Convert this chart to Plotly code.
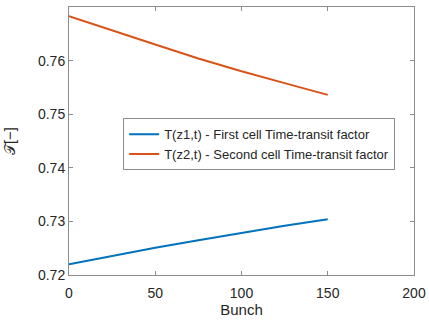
import plotly.graph_objects as go

bunch = [0, 25, 50, 75, 100, 125, 150]
t_first = [0.7220, 0.7236, 0.7251, 0.7265, 0.7279, 0.7292, 0.7304]
t_second = [0.7683, 0.7656, 0.7630, 0.7604, 0.7580, 0.7558, 0.7536]
names = ["T(z1,t) - First cell Time-transit factor",
         "T(z2,t) - Second cell Time-transit factor"]
x_ticks = [0, 50, 100, 150, 200]
y_ticks = [0.72, 0.73, 0.74, 0.75, 0.76, 0.77]

fig = go.Figure()
fig.add_trace(go.Scatter(x=bunch, y=t_first, mode="lines", name=names[0],
                         line=dict(color="#0072BD", width=2)))
fig.add_trace(go.Scatter(x=bunch, y=t_second, mode="lines", name=names[1],
                         line=dict(color="#D95319", width=2)))

axis_common = dict(showgrid=False, zeroline=False, showline=True, linecolor="#8c8c8c",
                   linewidth=1, mirror="ticks", ticks="inside", ticklen=4,
                   tickcolor="#8c8c8c", tickfont=dict(size=14, color="#262626"))
fig.update_xaxes(range=[0, 200], tickvals=x_ticks, ticktext=[str(v) for v in x_ticks],
                 ticklabelstandoff=5,
                 title=dict(text="Bunch", font=dict(size=15, color="#262626"), standoff=4),
                 **axis_common)
fig.update_yaxes(range=[0.72, 0.77], tickvals=y_ticks, ticktext=[f"{v:.2f}" for v in y_ticks],
                 title=dict(text="𝒯[−]", font=dict(size=15, color="#262626"), standoff=18),
                 **axis_common)
fig.update_layout(
    width=429, height=320,
    margin=dict(l=69, r=15, t=7, b=45, autoexpand=False),
    plot_bgcolor="white", paper_bgcolor="white",
    font=dict(family="Liberation Sans, Arial, sans-serif", color="#262626"),
    legend=dict(x=0.157, y=0.585, xanchor="left", yanchor="top",
                bordercolor="#8c8c8c", borderwidth=1, bgcolor="white",
                font=dict(size=13, color="#262626"), tracegroupgap=0,
                itemwidth=30),
    showlegend=True,
)
fig.write_html("out.html", config={"displayModeBar": False},
               post_script="document.body.style.margin='0';")
